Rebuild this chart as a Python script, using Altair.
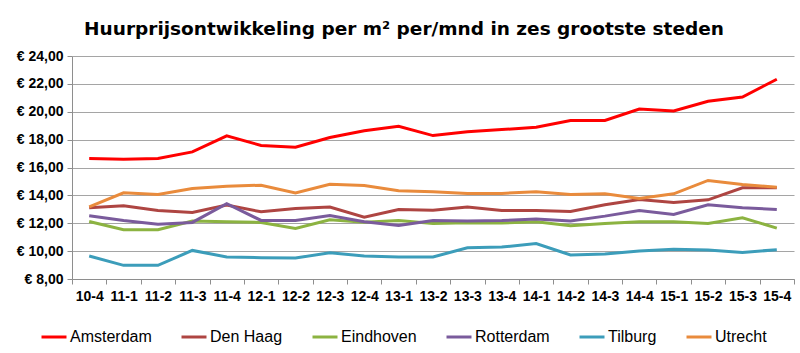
import altair as alt
import pandas as pd

quarters = ["10-4", "11-1", "11-2", "11-3", "11-4", "12-1", "12-2", "12-3", "12-4",
            "13-1", "13-2", "13-3", "13-4", "14-1", "14-2", "14-3", "14-4",
            "15-1", "15-2", "15-3", "15-4"]

cities = ["Amsterdam", "Den Haag", "Eindhoven", "Rotterdam", "Tilburg", "Utrecht"]

amsterdam = [16.65, 16.60, 16.65, 17.12, 18.27, 17.58, 17.46, 18.15, 18.63, 18.96, 18.29,
             18.56, 18.72, 18.89, 19.37, 19.37, 20.20, 20.06, 20.75, 21.06, 22.33]
den_haag = [13.11, 13.25, 12.92, 12.78, 13.30, 12.82, 13.06, 13.16, 12.44, 12.99, 12.94,
            13.16, 12.92, 12.92, 12.85, 13.33, 13.71, 13.49, 13.68, 14.54, 14.54]
eindhoven = [12.13, 11.53, 11.53, 12.16, 12.11, 12.06, 11.63, 12.25, 12.08, 12.20, 11.99,
             12.04, 12.01, 12.11, 11.82, 11.99, 12.11, 12.11, 11.99, 12.39, 11.65]
rotterdam = [12.54, 12.20, 11.92, 12.06, 13.40, 12.20, 12.20, 12.56, 12.11, 11.84, 12.20,
             12.16, 12.20, 12.30, 12.16, 12.51, 12.92, 12.63, 13.33, 13.11, 12.99]
tilburg = [9.65, 8.98, 8.98, 10.05, 9.58, 9.53, 9.50, 9.89, 9.65, 9.58, 9.58,
           10.24, 10.29, 10.55, 9.72, 9.79, 10.01, 10.13, 10.08, 9.91, 10.10]
utrecht = [13.18, 14.18, 14.07, 14.50, 14.66, 14.73, 14.18, 14.80, 14.71, 14.33, 14.26,
           14.14, 14.14, 14.26, 14.07, 14.11, 13.78, 14.11, 15.07, 14.78, 14.59]

colors = ["#FF0000", "#AE4542", "#8CB341", "#7A5B9C", "#3C9DBA", "#E98B3C"]
y_ticks = [8, 10, 12, 14, 16, 18, 20, 22, 24]

series = [amsterdam, den_haag, eindhoven, rotterdam, tilburg, utrecht]
rows = []
for i, (city, vals) in enumerate(zip(cities, series)):
    for q, v in zip(quarters, vals):
        rows.append({"kwartaal": q, "stad": city, "prijs": v, "volgorde": -i})
df = pd.DataFrame(rows)

grid_col = "#8E8E8E"

chart = alt.Chart(df).mark_line(strokeWidth=3).encode(
    x=alt.X("kwartaal:O", sort=quarters,
            scale=alt.Scale(type="band", paddingInner=0, paddingOuter=0),
            axis=alt.Axis(title=None, labelAngle=0, tickBand="extent",
                          labelFont="Liberation Sans", labelFontWeight="bold",
                          labelFontSize=14, labelColor="black", labelPadding=5,
                          domainColor=grid_col, tickColor=grid_col, tickSize=5,
                          labelOverlap=False)),
    y=alt.Y("prijs:Q", scale=alt.Scale(domain=[8, 24], nice=False, zero=False),
            axis=alt.Axis(title=None, values=y_ticks, grid=True, gridColor=grid_col,
                          gridOpacity=0.8,
                          labelExpr="'€ ' + replace(format(datum.value, '.2f'), '.', ',')",
                          labelFont="Liberation Sans", labelFontWeight="bold",
                          labelFontSize=14, labelColor="black", labelPadding=4,
                          domainColor=grid_col, tickColor=grid_col, tickSize=5)),
    color=alt.Color("stad:N", scale=alt.Scale(domain=cities, range=colors),
                    legend=alt.Legend(title=None, orient="none", direction="horizontal",
                                      legendX=-32, legendY=267,
                                      symbolType="stroke", symbolSize=625,
                                      symbolStrokeWidth=3, labelFont="Liberation Sans",
                                      labelFontSize=16, labelColor="black",
                                      labelOffset=2, columnPadding=23)),
    order=alt.Order("volgorde:Q"),
).properties(
    width=722, height=223,
    title=alt.TitleParams("Huurprijsontwikkeling per m² per/mnd in zes grootste steden",
                          font="DejaVu Sans", fontSize=18.5, fontWeight="bold",
                          color="black", anchor="middle", offset=11, dx=-29),
    autosize=alt.AutoSizeParams(type="none"),
    padding={"left": 72, "top": 56, "right": 6, "bottom": 74},
).configure_view(stroke=None)

chart.save("out.html", embed_options={"renderer": "svg", "actions": False})
